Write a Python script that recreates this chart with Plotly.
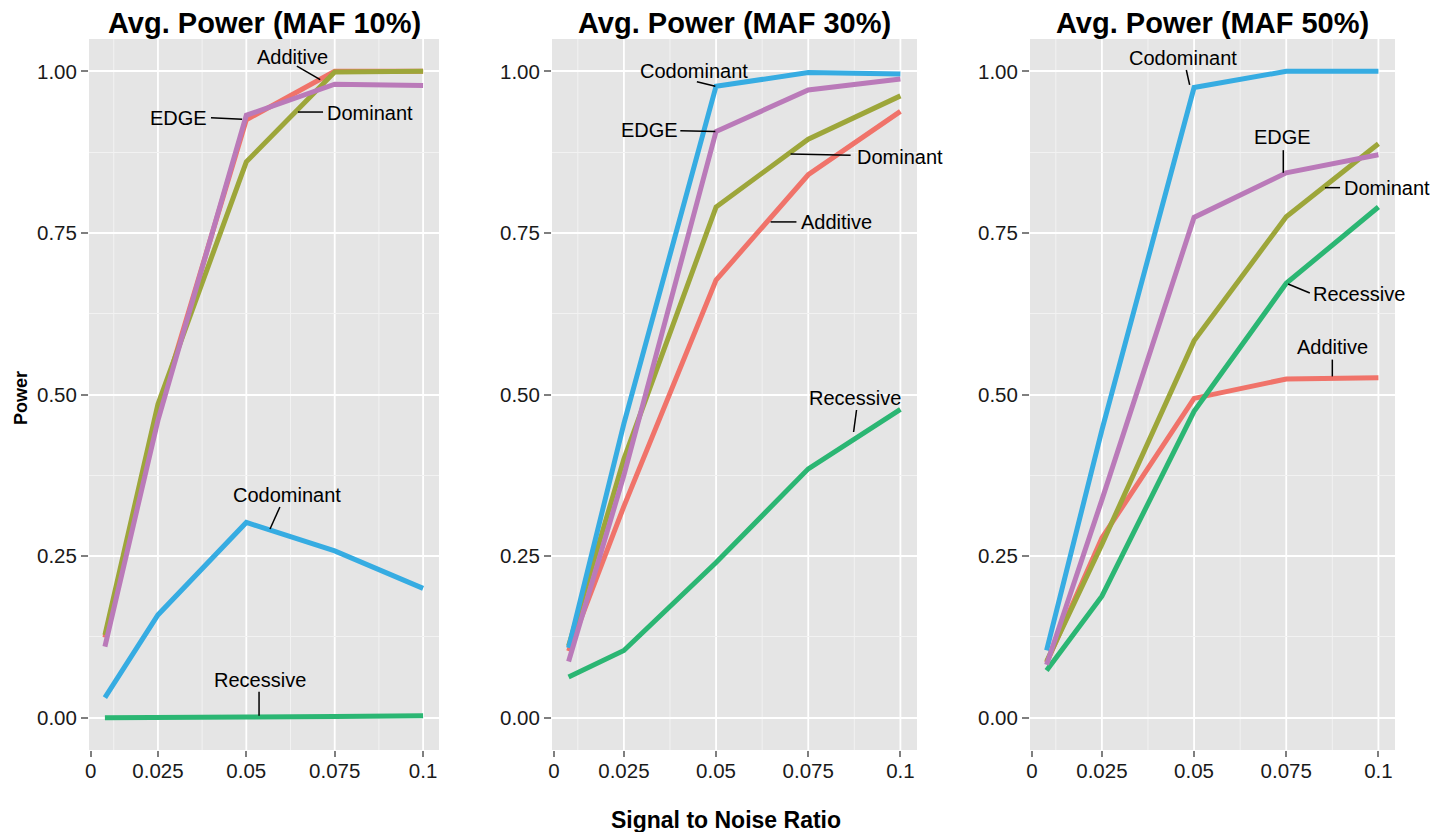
import plotly.graph_objects as go

# Signal-to-noise ratios at which power was evaluated
snr = [0.01, 0.025, 0.05, 0.075, 0.1]

x_tick_vals = [0.006, 0.025, 0.05, 0.075, 0.1]
x_tick_text = ["0", "0.025", "0.05", "0.075", "0.1"]
x_major_grid = [0.025, 0.05, 0.075, 0.1]
x_minor_grid = [0.0125, 0.0375, 0.0625, 0.0875]
y_tick_vals = [0.0, 0.25, 0.5, 0.75, 1.0]
y_tick_text = ["0.00", "0.25", "0.50", "0.75", "1.00"]
y_minor_grid = [0.125, 0.375, 0.625, 0.875]

panel_titles = ["Avg. Power (MAF 10%)", "Avg. Power (MAF 30%)", "Avg. Power (MAF 50%)"]
models = ["Additive", "Dominant", "Recessive", "Codominant", "EDGE"]
model_colors = ["#F0736A", "#9DA63A", "#2BB673", "#36ACE2", "#BA7AB9"]

# Average power per genetic model, one dict per minor allele frequency
power_maf10 = {
    "Additive":   [0.124, 0.470, 0.925, 1.000, 1.000],
    "Dominant":   [0.128, 0.485, 0.860, 0.999, 1.000],
    "Recessive":  [0.000, 0.000, 0.001, 0.002, 0.003],
    "Codominant": [0.031, 0.159, 0.302, 0.258, 0.200],
    "EDGE":       [0.110, 0.460, 0.932, 0.980, 0.978],
}
power_maf30 = {
    "Additive":   [0.103, 0.327, 0.677, 0.840, 0.938],
    "Dominant":   [0.111, 0.400, 0.790, 0.895, 0.962],
    "Recessive":  [0.063, 0.104, 0.240, 0.385, 0.477],
    "Codominant": [0.108, 0.455, 0.977, 0.998, 0.996],
    "EDGE":       [0.087, 0.375, 0.907, 0.971, 0.988],
}
power_maf50 = {
    "Additive":   [0.085, 0.278, 0.494, 0.524, 0.526],
    "Dominant":   [0.087, 0.268, 0.583, 0.775, 0.888],
    "Recessive":  [0.073, 0.188, 0.474, 0.672, 0.790],
    "Codominant": [0.104, 0.445, 0.975, 1.000, 1.000],
    "EDGE":       [0.082, 0.337, 0.774, 0.843, 0.871],
}
panels = [power_maf10, power_maf30, power_maf50]

# Direct labels: (text, text_x, text_y, leader start x, y, leader end x, y)
labels_maf10 = [
    ("Additive",   0.0632, 1.022, 0.0643, 1.008, 0.0709, 0.987),
    ("EDGE",       0.0307, 0.928, 0.0400, 0.928, 0.0488, 0.926),
    ("Dominant",   0.0850, 0.935, 0.0717, 0.937, 0.0646, 0.937),
    ("Codominant", 0.0615, 0.345, 0.0595, 0.326, 0.0567, 0.292),
    ("Recessive",  0.0539, 0.059, 0.0536, 0.040, 0.0536, 0.003),
]
labels_maf30 = [
    ("Codominant", 0.0439, 1.001, 0.0448, 0.984, 0.0498, 0.977),
    ("EDGE",       0.0320, 0.909, 0.0403, 0.908, 0.0498, 0.907),
    ("Dominant",   0.0999, 0.868, 0.0865, 0.870, 0.0702, 0.872),
    ("Additive",   0.0827, 0.767, 0.0718, 0.767, 0.0648, 0.767),
    ("Recessive",  0.0876, 0.495, 0.0881, 0.476, 0.0873, 0.442),
]
labels_maf50 = [
    ("Codominant", 0.0470, 1.020, 0.0479, 1.002, 0.0488, 0.979),
    ("EDGE",       0.0740, 0.899, 0.0742, 0.878, 0.0742, 0.843),
    ("Dominant",   0.1024, 0.819, 0.0896, 0.820, 0.0855, 0.820),
    ("Recessive",  0.0946, 0.656, 0.0814, 0.657, 0.0755, 0.671),
    ("Additive",   0.0875, 0.573, 0.0875, 0.554, 0.0875, 0.528),
]
panel_labels = [labels_maf10, labels_maf30, labels_maf50]

W, H = 1447, 832
x_domains_px = [(89, 439), (552, 917), (1030, 1395)]
y_domain_px = (39, 750)
x_range = [0.0055, 0.1045]
y_range = [-0.05, 1.05]

FONT = "Liberation Sans, Arial, Helvetica, sans-serif"
TEXT_COLOR = "#1a1a1a"

fig = go.Figure()
shapes = []
annotations = []
layout_axes = {}

for i, (data, title, labels) in enumerate(zip(panels, panel_titles, panel_labels)):
    n = "" if i == 0 else str(i + 1)
    xa, ya = "x" + n, "y" + n
    for model, color in zip(models, model_colors):
        fig.add_trace(go.Scatter(
            x=snr, y=data[model], mode="lines", name=model,
            line=dict(color=color, width=5), xaxis=xa, yaxis=ya,
            showlegend=False, hoverinfo="x+y+name",
        ))

    x0, x1 = x_domains_px[i]
    layout_axes["xaxis" + n] = dict(
        domain=[x0 / W, x1 / W], range=x_range, anchor=ya,
        tickvals=x_tick_vals, ticktext=x_tick_text,
        ticks="outside", ticklen=6, tickwidth=1.5, tickcolor="#7f7f7f",
        ticklabelstandoff=-4,
        tickfont=dict(family=FONT, size=20.5, color=TEXT_COLOR),
        showgrid=False, zeroline=False, showline=False, automargin=False,
    )
    layout_axes["yaxis" + n] = dict(
        domain=[1 - y_domain_px[1] / H, 1 - y_domain_px[0] / H],
        range=y_range, anchor=xa,
        tickvals=y_tick_vals, ticktext=y_tick_text,
        ticks="outside", ticklen=7, tickwidth=1.5, tickcolor="#7f7f7f",
        tickfont=dict(family=FONT, size=20.5, color=TEXT_COLOR),
        showgrid=True, gridcolor="white", gridwidth=1.8,
        minor=dict(tickvals=y_minor_grid, showgrid=True,
                   gridcolor="#F2F2F2", gridwidth=1, ticks=""),
        zeroline=False, showline=False, automargin=False,
    )

    # vertical grid lines
    for gx in x_minor_grid:
        shapes.append(dict(type="line", xref=xa, yref=ya + " domain",
                           x0=gx, x1=gx, y0=0, y1=1, layer="below",
                           line=dict(color="#F2F2F2", width=1)))
    for gx in x_major_grid:
        shapes.append(dict(type="line", xref=xa, yref=ya + " domain",
                           x0=gx, x1=gx, y0=0, y1=1, layer="below",
                           line=dict(color="white", width=1.8)))

    # panel title
    annotations.append(dict(
        text="<b>" + title + "</b>", xref="paper", yref="paper",
        x=(x0 + x1) / 2 / W, y=1 - 23 / H, xanchor="center", yanchor="middle",
        showarrow=False, font=dict(family=FONT, size=29, color="black"),
    ))

    # direct labels with leader lines
    for text, tx, ty, sx, sy, ex, ey in labels:
        annotations.append(dict(
            text=text, xref=xa, yref=ya, x=tx, y=ty,
            xanchor="center", yanchor="middle", showarrow=False,
            font=dict(family=FONT, size=20, color="black"),
        ))
        shapes.append(dict(type="line", xref=xa, yref=ya,
                           x0=sx, y0=sy, x1=ex, y1=ey, layer="above",
                           line=dict(color="black", width=1.5)))

annotations.append(dict(
    text="<b>Signal to Noise Ratio</b>", xref="paper", yref="paper",
    x=726 / W, y=1 - 820 / H, xanchor="center", yanchor="middle",
    showarrow=False, font=dict(family=FONT, size=23, color="black"),
))
annotations.append(dict(
    text="<b>Power</b>", xref="paper", yref="paper",
    x=21 / W, y=1 - 398 / H, xanchor="center", yanchor="middle",
    textangle=-90, showarrow=False, font=dict(family=FONT, size=18, color="black"),
))

fig.update_layout(
    width=W, height=H,
    margin=dict(l=0, r=0, t=0, b=0),
    paper_bgcolor="white", plot_bgcolor="#E5E5E5",
    shapes=shapes, annotations=annotations,
    **layout_axes,
)

fig.write_html("out.html")
